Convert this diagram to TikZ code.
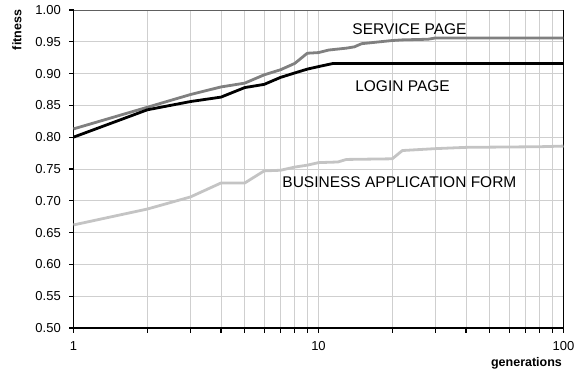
\documentclass[tikz,border=0pt]{standalone}
\usepackage{fontspec}
\setmainfont{Liberation Sans}
\definecolor{servicegray}{HTML}{808080}
\definecolor{businessgray}{HTML}{C4C4C4}
\definecolor{gridgray}{HTML}{CFCFCF}
\definecolor{framegray}{HTML}{606060}

\begin{document}
\begin{tikzpicture}[x=245pt, y=636pt,
  gridline/.style={draw=gridgray, line width=0.9pt},
  axisline/.style={line width=1.2pt},
  curve/.style={line width=2.8pt, line join=round},
  serieslabel/.style={font=\fontsize{15.5}{18}\selectfont, inner sep=0pt},
  ticklabel/.style={font=\fontsize{13}{15}\selectfont, inner sep=0pt},
  axislabel/.style={font=\bfseries\fontsize{12.5}{15}\selectfont, inner sep=0pt}]
\useasboundingbox (-0.3,0.4308) rectangle (2.0429,1.0157);

\foreach \d in {0,1}
  \foreach \k in {2,...,9}
    \draw [gridline] ({\d+log10(\k)},0.5) -- ({\d+log10(\k)},1);
\draw [gridline] (1,0.5) -- (1,1);
\foreach \t in {0.55,0.60,0.65,0.70,0.75,0.80,0.85,0.90,0.95}
  \draw [gridline] (0,\t) -- (2,\t);

\draw [framegray, line width=0.9pt] (0,1) -- (2,1);
\draw [line width=0.9pt] (2,0.5) -- (2,1);
\draw [axisline] (0,1) -- (0,0.5) -- (2,0.5);

\foreach \t [count=\i] in {0.50,0.55,0.60,0.65,0.70,0.75,0.80,0.85,0.90,0.95,1.00} {
  \draw [axisline] (0,\t) -- ++(-5pt,0);
  \node [ticklabel, anchor=east] (ylab\i) at ([xshift=-12.5pt]0,\t) {\t};
}
\foreach \d in {0,1}
  \foreach \k in {1,...,9}
    \draw [axisline] ({\d+log10(\k)},0.5) -- ++(0,-5pt);
\draw [axisline] (2,0.5) -- ++(0,-5pt);
\node [ticklabel, anchor=north] (xlab1) at ([yshift=-13.5pt]0,0.5) {1};
\node [ticklabel, anchor=north] (xlab10) at ([yshift=-13.5pt]1,0.5) {10};
\node [ticklabel, anchor=north] (xlab100) at ([yshift=-13.5pt]2,0.5) {100};

\node [axislabel, rotate=90] (fitness) at ([xshift=-56.5pt]0,0.9686) {fitness};
\node [axislabel, anchor=base] (generations) at (1.849,0.4395) {generations};

\draw [curve, businessgray] (0,0.662)
  \foreach \g/\f in {2/0.687,3/0.706,4/0.728,5/0.728,6/0.747,7/0.748,8/0.753,9/0.756,
    10/0.760,12/0.761,13/0.765,20/0.766,22/0.779,30/0.782,40/0.784,80/0.785,100/0.786}
  { -- ({log10(\g)},\f) };
\draw [curve, servicegray] (0,0.813)
  \foreach \g/\f in {2/0.847,3/0.867,4/0.879,5/0.885,6/0.898,7/0.906,8/0.916,9/0.932,
    10/0.933,11/0.937,13/0.940,14/0.942,15/0.947,20/0.952,22/0.953,28/0.954,30/0.956,100/0.956}
  { -- ({log10(\g)},\f) };
\draw [curve, black] (0,0.800)
  \foreach \g/\f in {2/0.843,3/0.856,4/0.863,5/0.878,6/0.883,7/0.894,8/0.901,9/0.907,
    10/0.911,11.5/0.916,100/0.916}
  { -- ({log10(\g)},\f) };

\node [serieslabel] (service) at (1.3714,0.9698) {SERVICE PAGE};
\node [serieslabel] (login) at (1.3429,0.8808) {LOGIN PAGE};
\node [serieslabel] (business) at (1.3302,0.7288) {BUSINESS APPLICATION FORM};
\end{tikzpicture}
\end{document}
